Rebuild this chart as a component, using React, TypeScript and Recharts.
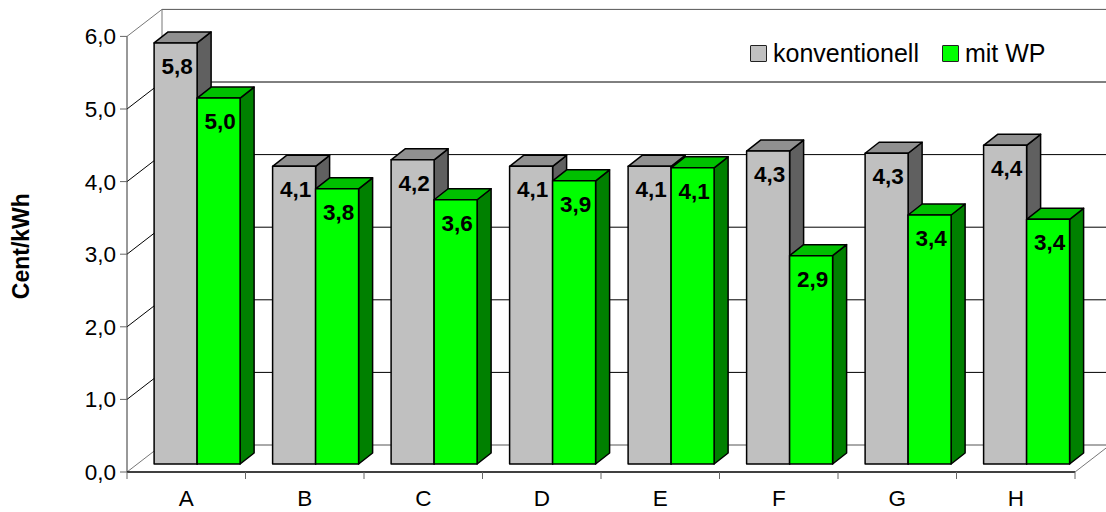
import React from "react";
import { BarChart, Bar, XAxis, YAxis, CartesianGrid, Legend, LabelList } from "recharts";

const categories = ["A", "B", "C", "D", "E", "F", "G", "H"];
const konventionell = [5.8, 4.1, 4.19, 4.1, 4.1, 4.31, 4.28, 4.39];
const mitWP = [5.04, 3.79, 3.64, 3.9, 4.08, 2.87, 3.43, 3.37];
const yTicks = [0, 1, 2, 3, 4, 5, 6];

const data = categories.map((name, i) => ({ name, konventionell: konventionell[i], mitWP: mitWP[i] }));

const W = 1106, H = 512;
const TOP = 36.4, BOTTOM = 472, LEFT = 127, RIGHT = 1075;
const WALL_DX = 35, WALL_DY = 27;
const BAR_DX = 10.4, BAR_DY = 8, DEPTH_X = 14, DEPTH_Y = 11;
const BAND = (RIGHT - LEFT) / categories.length;
const FONT = "'Liberation Sans', Arial, sans-serif";
const comma = (v: number) => v.toFixed(1).replace(".", ",");

const GridLine = (p: any) => {
  const { x1, x2, y1 } = p;
  const bx1 = x1 + WALL_DX, bx2 = x2 + WALL_DX, by = y1 - WALL_DY;
  const isTop = Math.abs(y1 - TOP) < 0.5;
  const isBase = Math.abs(y1 - BOTTOM) < 0.5;
  return (
    <g stroke="#000" strokeWidth={1} fill="none">
      <line x1={x1} y1={y1} x2={bx1} y2={by} stroke={isBase || isTop ? "#777" : "#000"} />
      <line x1={bx1} y1={by} x2={bx2} y2={by} stroke={isBase || isTop ? "#555" : "#000"} />
      {isTop && <line x1={bx1} y1={by} x2={bx1} y2={by + (BOTTOM - TOP)} stroke="#777" />}
      {isBase && <line x1={x2} y1={y1} x2={bx2} y2={by} stroke="#777" />}
    </g>
  );
};

const makeBar = (face: string, top: string, side: string) => (p: any) => {
  const x = p.x + BAR_DX, y = p.y - BAR_DY, w = p.width, h = p.height;
  const s = { stroke: "#000", strokeWidth: 1.5, strokeLinejoin: "round" as const };
  return (
    <g>
      <polygon
        points={`${x + w},${y} ${x + w + DEPTH_X},${y - DEPTH_Y} ${x + w + DEPTH_X},${y + h - DEPTH_Y} ${x + w},${y + h}`}
        fill={side} {...s} />
      <polygon
        points={`${x},${y} ${x + DEPTH_X},${y - DEPTH_Y} ${x + w + DEPTH_X},${y - DEPTH_Y} ${x + w},${y}`}
        fill={top} {...s} />
      <rect x={x} y={y} width={w} height={h} fill={face} {...s} />
    </g>
  );
};

const BarLabel = (p: any) => (
  <text x={p.x + p.width / 2 + BAR_DX + 1.5} y={p.y - BAR_DY + 31} textAnchor="middle"
    fontFamily={FONT} fontWeight="bold" fontSize={22.5} fill="#000">
    {comma(p.value)}
  </text>
);

const XTick = (p: any) => {
  const cx = p.payload.coordinate;
  const left = cx - BAND / 2, right = cx + BAND / 2;
  return (
    <g>
      <line x1={left} y1={BOTTOM} x2={left} y2={BOTTOM + 7} stroke="#666" />
      {p.index === categories.length - 1 && <line x1={right} y1={BOTTOM} x2={right} y2={BOTTOM + 7} stroke="#666" />}
      <text x={cx} y={BOTTOM + 34} textAnchor="middle" fontFamily={FONT} fontSize={22.5} fill="#000">
        {p.payload.value}
      </text>
    </g>
  );
};

const LegendContent = (p: any) => (
  <div style={{ display: "flex", alignItems: "center", fontFamily: FONT, fontSize: 25, color: "#000", lineHeight: "24px", whiteSpace: "nowrap" }}>
    {p.payload.map((e: any, i: number) => (
      <span key={e.value} style={{ display: "flex", alignItems: "center", marginRight: i === 0 ? 23 : 0 }}>
        <span style={{ width: 17, height: 17, boxSizing: "border-box", flexShrink: 0, background: e.color, border: "1.5px solid #222", borderRadius: 1, marginRight: 6, display: "inline-block" }} />
        {e.value}
      </span>
    ))}
  </div>
);

export default function App() {
  return (
    <div style={{ position: "absolute", left: 0, top: 0, width: W, height: H, background: "#fff" }}>
      <BarChart width={W} height={H} data={data} barGap={0} barCategoryGap="14.1%"
        margin={{ top: TOP, bottom: 0, left: 67, right: W - RIGHT }}>
        <CartesianGrid vertical={false} horizontal={GridLine} />
        <XAxis dataKey="name" height={H - BOTTOM} tick={XTick} tickLine={false} axisLine={{ stroke: "#000", strokeWidth: 1.5 }} interval={0} />
        <YAxis width={60} domain={[0, 6]} ticks={yTicks} interval={0} tickSize={7} tickMargin={4}
          tickFormatter={comma} axisLine={{ stroke: "#333" }} tickLine={{ stroke: "#666" }}
          tick={{ fontFamily: FONT, fontSize: 22.5, fill: "#000" }}
          label={{ value: "Cent/kWh", angle: -90, position: "insideLeft", offset: -46, dy: -8, style: { fontFamily: FONT, fontSize: 23, fontWeight: "bold", fill: "#000", textAnchor: "middle" } }} />
        <Legend verticalAlign="middle" align="center" layout="horizontal" content={LegendContent}
          wrapperStyle={{ position: "absolute", left: 750, top: 41, width: "auto", height: "auto" }} />
        <Bar dataKey="konventionell" name="konventionell" fill="#C0C0C0" isAnimationActive={false}
          shape={makeBar("#C0C0C0", "#909090", "#606060")}>
          <LabelList dataKey="konventionell" content={BarLabel} />
        </Bar>
        <Bar dataKey="mitWP" name="mit WP" fill="#00FF00" isAnimationActive={false}
          shape={makeBar("#00FF00", "#00C000", "#008000")}>
          <LabelList dataKey="mitWP" content={BarLabel} />
        </Bar>
      </BarChart>
    </div>
  );
}
